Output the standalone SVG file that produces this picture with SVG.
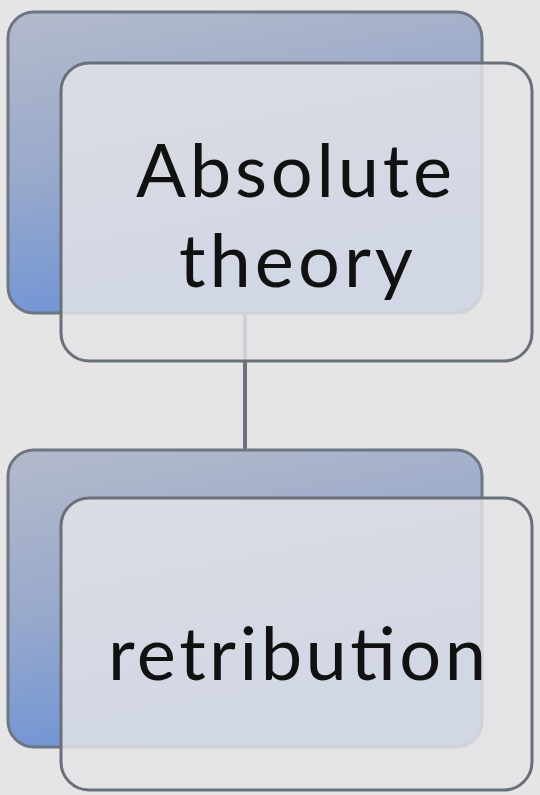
<svg xmlns="http://www.w3.org/2000/svg" width="540" height="795" viewBox="0 0 540 795">
  <defs>
    <linearGradient id="blueGrad" x1="0" y1="0" x2="0.3" y2="1">
      <stop offset="0" stop-color="#b4bacb"/>
      <stop offset="0.5" stop-color="#9aaacb"/>
      <stop offset="1" stop-color="#6f93d6"/>
    </linearGradient>
    <style>
      .back { fill: url(#blueGrad); stroke: #6d7684; stroke-width: 3; }
      .front { fill: #e4e4e7; fill-opacity: 0.84; stroke: #6a7079; stroke-width: 3; }
      .label { font-family: Lato, "Open Sans", "Liberation Sans", sans-serif; font-size: 74px; fill: #111111; text-anchor: middle; }
      .conn { stroke: #6a737e; stroke-width: 4; fill: none; }
    </style>
  </defs>
  <rect x="0" y="0" width="540" height="795" fill="#e5e5e5"/>
  <g id="connectors">
    <line class="conn" x1="245" y1="312" x2="245" y2="450"/>
  </g>
  <g id="node-absolute-theory">
    <rect class="back" x="8" y="12" width="474" height="301" rx="26" ry="26"/>
    <rect class="front" x="61" y="63" width="471" height="298" rx="28" ry="28"/>
    <text class="label" x="294" y="197" textLength="316" lengthAdjust="spacing">Absolute</text>
    <text class="label" x="296" y="287" textLength="234" lengthAdjust="spacing">theory</text>
  </g>
  <g id="node-retribution">
    <rect class="back" x="8" y="450" width="474" height="297" rx="26" ry="26"/>
    <rect class="front" x="61" y="498" width="471" height="292" rx="28" ry="28"/>
    <text class="label" x="297" y="680" textLength="378" lengthAdjust="spacing">retribution</text>
  </g>
</svg>
